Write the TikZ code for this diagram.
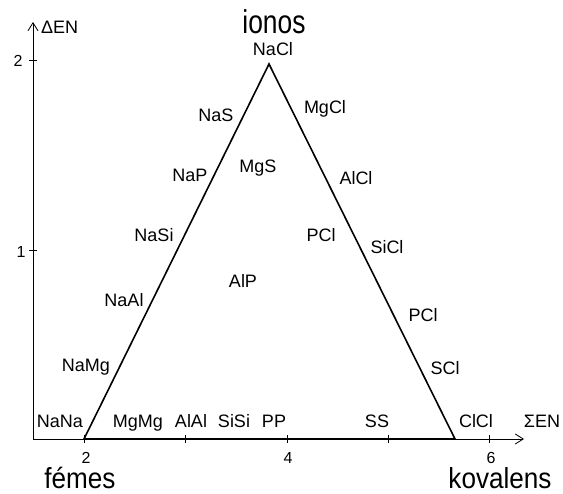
\documentclass[tikz,border=0pt]{standalone}
\usepackage{fontspec}
\setmainfont{Liberation Sans}
\newfontfamily\bigfont[FakeStretch=0.9]{Liberation Sans}
\newfontfamily\ionfont[FakeStretch=0.8]{Liberation Sans}
\usetikzlibrary{arrows.meta}
\tikzset{
  lbl/.style={anchor=base, inner sep=0pt, font=\fontsize{18}{20}\selectfont},
  ticklbl/.style={anchor=base, inner sep=0pt, text depth=0pt, font=\fontsize{16}{18}\selectfont},
  biglbl/.style={anchor=base, inner sep=0pt, text depth=0pt, text height=21pt, font=\bigfont\fontsize{29}{31}\selectfont},
  ionlbl/.style={anchor=base, inner sep=0pt, text depth=0pt, font=\ionfont\fontsize{33}{35}\selectfont},
  axis/.style={line width=0.8pt, -{Straight Barb[length=8pt,width=10pt]}},
  tickmark/.style={line width=0.8pt},
  tri/.style={line width=1.6pt, line join=miter}
}
\begin{document}
\begin{tikzpicture}[x=1pt,y=-1pt]
\useasboundingbox (0,0) rectangle (563,494);
% axes
\coordinate (O) at (33,439);
\coordinate (Ytip) at (33,22);
\coordinate (Xtip) at (524,439);
\draw[axis] (O) -- (Ytip);
\draw[axis] (O) -- (Xtip);
% ticks
\foreach \x in {84,185,287,388,489} \draw[tickmark] (\x,435) -- (\x,443);
\foreach \y in {60,250} \draw[tickmark] (29,\y) -- (37,\y);
% triangle
\coordinate (A) at (84,439);
\coordinate (B) at (269,64);
\coordinate (C) at (455,439);
\draw[tri] (A) -- (B) -- (C) -- cycle;
% axis labels
\node[lbl, anchor=base west] (yl) at (41,34) {ΔEN};
\node[lbl] (xl) at (542,428) {ΣEN};
\node[ticklbl] (t2y) at (18,67) {2};
\node[ticklbl] (t1y) at (21,258) {1};
\node[ticklbl] (t2x) at (86,464) {2};
\node[ticklbl] (t4x) at (288,464) {4};
\node[ticklbl] (t6x) at (491,464) {6};
% big labels
\node[ionlbl] (ionos) at (274,34) {ionos};
\node[biglbl] (femes) at (80,489) {fémes};
\node[biglbl] (koval) at (500,489) {kovalens};
% compounds
\node[lbl] (NaCl) at (273,56) {NaCl};
\node[lbl] (NaS) at (216,122) {NaS};
\node[lbl] (MgCl) at (325,114) {MgCl};
\node[lbl] (NaP) at (190,182) {NaP};
\node[lbl] (MgS) at (258,173) {MgS};
\node[lbl] (AlCl) at (356,185) {AlCl};
\node[lbl] (NaSi) at (154,242) {NaSi};
\node[lbl] (PCla) at (321,242) {PCl};
\node[lbl] (SiCl) at (387,254) {SiCl};
\node[lbl] (NaAl) at (124,307) {NaAl};
\node[lbl] (AlP) at (243,288) {AlP};
\node[lbl] (PClb) at (423,322) {PCl};
\node[lbl] (NaMg) at (86,372) {NaMg};
\node[lbl] (SCl) at (445,375) {SCl};
\node[lbl] (NaNa) at (60,428) {NaNa};
\node[lbl] (MgMg) at (138,428) {MgMg};
\node[lbl] (AlAl) at (191,428) {AlAl};
\node[lbl] (SiSi) at (234,428) {SiSi};
\node[lbl] (PP) at (274,428) {PP};
\node[lbl] (SS) at (377,428) {SS};
\node[lbl] (ClCl) at (476,428) {ClCl};
\end{tikzpicture}
\end{document}
